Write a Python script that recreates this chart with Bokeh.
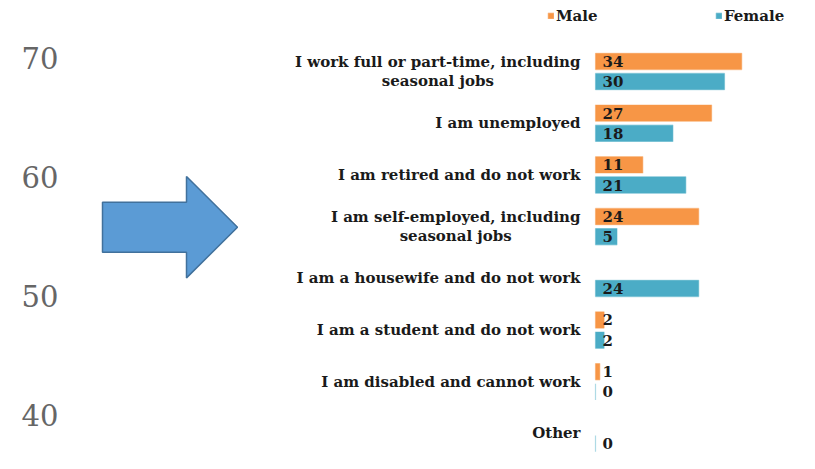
import math
from bokeh.plotting import figure
from bokeh.layouts import row
from bokeh.models import (Range1d, ColumnDataSource, FixedTicker, Legend, LegendItem,
                          LinearAxis)
from bokeh.transform import dodge
from bokeh.core.properties import value
from bokeh.embed import file_html
from bokeh.resources import INLINE

# ---------------- data ----------------
categories = [
    "I work full or part-time, including\nseasonal jobs",
    "I am unemployed",
    "I am retired and do not work",
    "I am self-employed, including\nseasonal jobs",
    "I am a housewife and do not work",
    "I am a student and do not work",
    "I am disabled and cannot work",
    "Other",
]
male = [34, 27, 11, 24, None, 2, 1, None]
female = [30, 18, 21, 5, 24, 2, 0, 0]
series = ["Male", "Female"]
colors = ["#F79646", "#4BACC6"]
scale_ticks = [40, 50, 60, 70]

FONT = "DejaVu Serif"
LABEL_PX = 15
H = 453
LW = 252
RW = 547


def text_width(s):
    """Width in px of s in DejaVu Serif Bold at LABEL_PX (used to centre wrapped lines)."""
    try:
        from PIL import ImageFont
        for path in ("/usr/share/fonts/truetype/dejavu/DejaVuSerif-Bold.ttf",
                     "/usr/share/fonts/dejavu/DejaVuSerif-Bold.ttf",
                     "/usr/share/fonts/TTF/DejaVuSerif-Bold.ttf"):
            try:
                f = ImageFont.truetype(path, LABEL_PX)
                return f.getlength(s)
            except Exception:
                continue
    except Exception:
        pass
    return 0.62 * LABEL_PX * len(s)


# ---------------- left panel: scale + arrow ----------------
left = figure(width=LW, height=H, output_backend="svg", toolbar_location=None,
              x_range=Range1d(64, LW), y_range=Range1d(36.811, 74.825),
              min_border_left=64, min_border_right=0, min_border_top=0, min_border_bottom=0,
              x_axis_location=None, y_axis_location=None)
left.outline_line_color = None
left.grid.visible = False
ax = LinearAxis(ticker=FixedTicker(ticks=scale_ticks), axis_line_color=None,
                major_tick_line_color=None, minor_tick_line_color=None,
                major_tick_out=0, major_tick_in=0, major_label_standoff=6,
                major_label_text_font=FONT, major_label_text_font_size="29px",
                major_label_text_color="#666666")
left.add_layout(ax, "left")

left.extra_y_ranges = {"px": Range1d(H, 0)}
tail_x, base_x, tip_x = 102, 186, 237
cy, shaft_half, head_half = 226.7, 25, 50.7
arrow_x = [tail_x, base_x, base_x, tip_x, base_x, base_x, tail_x]
arrow_y = [cy - shaft_half, cy - shaft_half, cy - head_half, cy,
           cy + head_half, cy + shaft_half, cy + shaft_half]
left.patch(arrow_x, arrow_y, y_range_name="px", fill_color="#5B9BD5",
           line_color="#41719C", line_width=1.5)

# ---------------- right panel: bars ----------------
n = len(categories)
pos = [n - 1 - i for i in range(n)]
src = ColumnDataSource(dict(
    pos=pos,
    male=[float("nan") if v is None else v for v in male],
    female=female,
    mlab=["" if v is None else str(v) for v in male],
    flab=[str(v) for v in female],
))

# category label lines: first line right-aligned, second line centred under the first
gap = 15
line_half = 9.5
l1_text, l1_pos, l1_dy = [], [], []
l2_text, l2_pos, l2_dx = [], [], []
for c, p_ in zip(categories, pos):
    parts = c.split("\n")
    if len(parts) == 1:
        l1_text.append(parts[0]); l1_pos.append(p_); l1_dy.append(0)
    else:
        l1_text.append(parts[0]); l1_pos.append(p_); l1_dy.append(-line_half)
        l2_text.append(parts[1]); l2_pos.append(p_)
        l2_dx.append(-gap - text_width(parts[0]) / 2)
lab1 = ColumnDataSource(dict(text=l1_text, pos=l1_pos, dy=l1_dy))
lab2 = ColumnDataSource(dict(text=l2_text, pos=l2_pos, dx=l2_dx))

right = figure(width=RW, height=H, output_backend="svg", toolbar_location=None,
               x_range=Range1d(-79.77, 47.44), y_range=Range1d(-0.387, 8.373),
               min_border_left=0, min_border_right=0, min_border_top=0, min_border_bottom=0,
               x_axis_location=None, y_axis_location=None)
right.outline_line_color = None
right.grid.visible = False

off = 0.195
bh = 0.315
rm = right.hbar(y=dodge("pos", off, range=right.y_range), left=0, right="male", height=bh,
                fill_color=colors[0], line_color=colors[0], line_alpha=0.45, line_width=1.2,
                source=src)
rf = right.hbar(y=dodge("pos", -off, range=right.y_range), left=0, right="female", height=bh,
                fill_color=colors[1], line_color=colors[1], line_alpha=0.45, line_width=1.2,
                source=src)

style = dict(text_font=value(FONT), text_font_style="bold",
             text_font_size=f"{LABEL_PX}px", text_color="#1a1a1a", text_baseline="middle")
right.text(x=0, y=dodge("pos", off, range=right.y_range), text="mlab", x_offset=7,
           text_align="left", source=src, **style)
right.text(x=0, y=dodge("pos", -off, range=right.y_range), text="flab", x_offset=7,
           text_align="left", source=src, **style)
right.text(x=0, y="pos", text="text", x_offset=-gap, y_offset="dy", text_align="right",
           source=lab1, **style)
right.text(x=0, y="pos", text="text", x_offset="dx", y_offset=line_half, text_align="center",
           source=lab2, **style)

legend = Legend(items=[LegendItem(label=series[0], renderers=[rm]),
                       LegendItem(label=series[1], renderers=[rf])],
                orientation="horizontal", location=(295, 428.5),
                glyph_width=7, glyph_height=7, label_standoff=2, label_width=159,
                label_height=18, spacing=0, padding=0, margin=0,
                border_line_color=None, background_fill_alpha=0,
                label_text_font=FONT, label_text_font_style="bold",
                label_text_font_size=f"{LABEL_PX}px", label_text_color="#1a1a1a")
right.add_layout(legend)

layout = row(left, right)
open("out.html", "w").write(file_html(layout, INLINE))
